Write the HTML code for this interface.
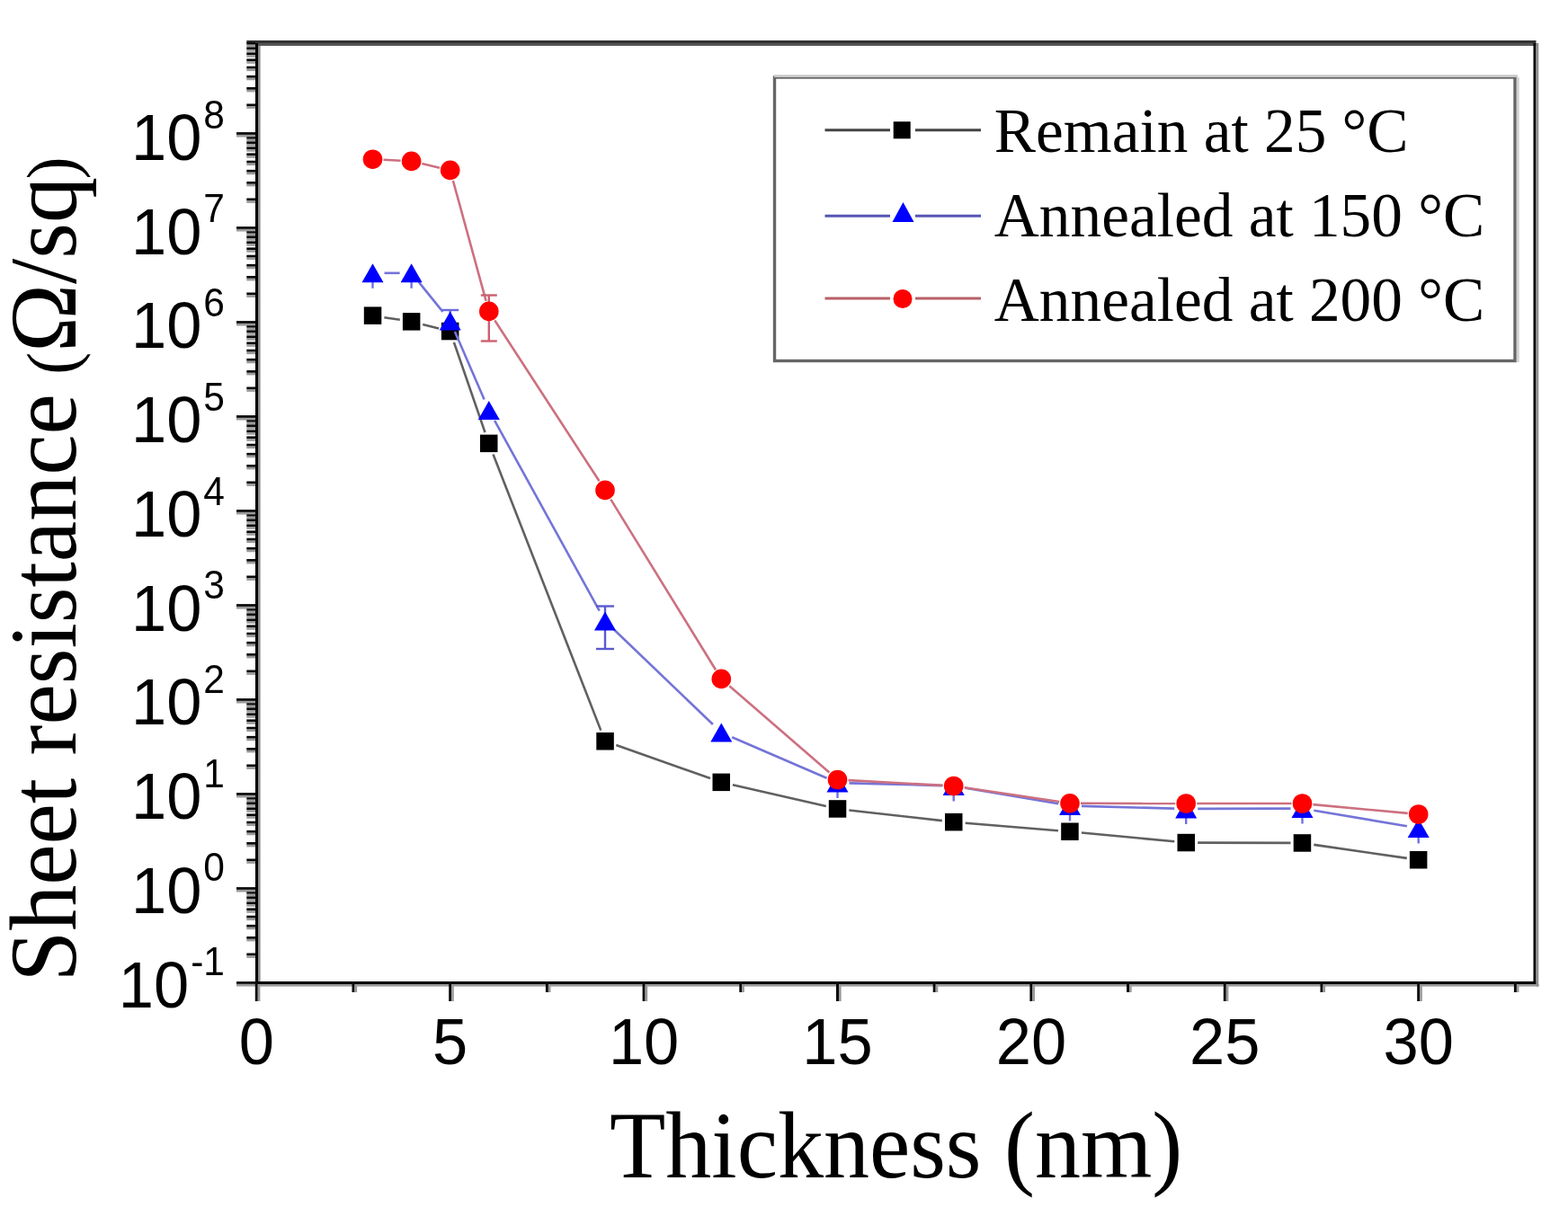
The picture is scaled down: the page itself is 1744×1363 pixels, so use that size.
<!DOCTYPE html>
<html><head><meta charset="utf-8"><title>Sheet resistance vs thickness</title>
<style>html,body{margin:0;padding:0;background:#fff;}svg{display:block;}</style>
</head><body>
<svg width="1744" height="1363" viewBox="0 0 1744 1363">
<rect width="100%" height="100%" fill="#fff"/>
<rect x="284.0" y="45.0" width="3" height="1050.0" fill="#000"/>
<rect x="287.0" y="48.0" width="2.6" height="1047.0" fill="#8c8c8c"/>
<rect x="284.0" y="1092.0" width="1424.5" height="3" fill="#000"/>
<rect x="287.0" y="1095.0" width="1424.5" height="2.6" fill="#999"/>
<rect x="274.3" y="45.0" width="1434.2" height="3" fill="#333"/>
<rect x="287.0" y="48.0" width="1421.5" height="3" fill="#555"/>
<rect x="1705.5" y="48.0" width="3" height="1047.0" fill="#000"/>
<rect x="1708.5" y="48.0" width="2.8" height="1049.6" fill="#909090"/>
<rect x="263.0" y="1092.10" width="21.0" height="2.8" fill="#0a0a0a"/>
<rect x="263.0" y="1094.90" width="21.0" height="2.6" fill="#8a8a8a" fill-opacity="0.85"/>
<rect x="274.3" y="1060.49" width="9.699999999999989" height="2.8" fill="#0a0a0a"/>
<rect x="274.3" y="1063.29" width="9.699999999999989" height="2.6" fill="#8a8a8a" fill-opacity="0.85"/>
<rect x="274.3" y="1042.00" width="9.699999999999989" height="2.8" fill="#0a0a0a"/>
<rect x="274.3" y="1044.80" width="9.699999999999989" height="2.6" fill="#8a8a8a" fill-opacity="0.85"/>
<rect x="274.3" y="1028.88" width="9.699999999999989" height="2.8" fill="#0a0a0a"/>
<rect x="274.3" y="1031.68" width="9.699999999999989" height="2.6" fill="#8a8a8a" fill-opacity="0.85"/>
<rect x="274.3" y="1018.71" width="9.699999999999989" height="2.8" fill="#0a0a0a"/>
<rect x="274.3" y="1021.51" width="9.699999999999989" height="2.6" fill="#8a8a8a" fill-opacity="0.85"/>
<rect x="274.3" y="1010.39" width="9.699999999999989" height="2.8" fill="#0a0a0a"/>
<rect x="274.3" y="1013.19" width="9.699999999999989" height="2.6" fill="#8a8a8a" fill-opacity="0.85"/>
<rect x="274.3" y="1003.36" width="9.699999999999989" height="2.8" fill="#0a0a0a"/>
<rect x="274.3" y="1006.16" width="9.699999999999989" height="2.6" fill="#8a8a8a" fill-opacity="0.85"/>
<rect x="274.3" y="997.28" width="9.699999999999989" height="2.8" fill="#0a0a0a"/>
<rect x="274.3" y="1000.08" width="9.699999999999989" height="2.6" fill="#8a8a8a" fill-opacity="0.85"/>
<rect x="274.3" y="991.90" width="9.699999999999989" height="2.8" fill="#0a0a0a"/>
<rect x="274.3" y="994.70" width="9.699999999999989" height="2.6" fill="#8a8a8a" fill-opacity="0.85"/>
<rect x="263.0" y="987.10" width="21.0" height="2.8" fill="#0a0a0a"/>
<rect x="263.0" y="989.90" width="21.0" height="2.6" fill="#8a8a8a" fill-opacity="0.85"/>
<rect x="274.3" y="955.49" width="9.699999999999989" height="2.8" fill="#0a0a0a"/>
<rect x="274.3" y="958.29" width="9.699999999999989" height="2.6" fill="#8a8a8a" fill-opacity="0.85"/>
<rect x="274.3" y="937.00" width="9.699999999999989" height="2.8" fill="#0a0a0a"/>
<rect x="274.3" y="939.80" width="9.699999999999989" height="2.6" fill="#8a8a8a" fill-opacity="0.85"/>
<rect x="274.3" y="923.88" width="9.699999999999989" height="2.8" fill="#0a0a0a"/>
<rect x="274.3" y="926.68" width="9.699999999999989" height="2.6" fill="#8a8a8a" fill-opacity="0.85"/>
<rect x="274.3" y="913.71" width="9.699999999999989" height="2.8" fill="#0a0a0a"/>
<rect x="274.3" y="916.51" width="9.699999999999989" height="2.6" fill="#8a8a8a" fill-opacity="0.85"/>
<rect x="274.3" y="905.39" width="9.699999999999989" height="2.8" fill="#0a0a0a"/>
<rect x="274.3" y="908.19" width="9.699999999999989" height="2.6" fill="#8a8a8a" fill-opacity="0.85"/>
<rect x="274.3" y="898.36" width="9.699999999999989" height="2.8" fill="#0a0a0a"/>
<rect x="274.3" y="901.16" width="9.699999999999989" height="2.6" fill="#8a8a8a" fill-opacity="0.85"/>
<rect x="274.3" y="892.28" width="9.699999999999989" height="2.8" fill="#0a0a0a"/>
<rect x="274.3" y="895.08" width="9.699999999999989" height="2.6" fill="#8a8a8a" fill-opacity="0.85"/>
<rect x="274.3" y="886.90" width="9.699999999999989" height="2.8" fill="#0a0a0a"/>
<rect x="274.3" y="889.70" width="9.699999999999989" height="2.6" fill="#8a8a8a" fill-opacity="0.85"/>
<rect x="263.0" y="882.10" width="21.0" height="2.8" fill="#0a0a0a"/>
<rect x="263.0" y="884.90" width="21.0" height="2.6" fill="#8a8a8a" fill-opacity="0.85"/>
<rect x="274.3" y="850.49" width="9.699999999999989" height="2.8" fill="#0a0a0a"/>
<rect x="274.3" y="853.29" width="9.699999999999989" height="2.6" fill="#8a8a8a" fill-opacity="0.85"/>
<rect x="274.3" y="832.00" width="9.699999999999989" height="2.8" fill="#0a0a0a"/>
<rect x="274.3" y="834.80" width="9.699999999999989" height="2.6" fill="#8a8a8a" fill-opacity="0.85"/>
<rect x="274.3" y="818.88" width="9.699999999999989" height="2.8" fill="#0a0a0a"/>
<rect x="274.3" y="821.68" width="9.699999999999989" height="2.6" fill="#8a8a8a" fill-opacity="0.85"/>
<rect x="274.3" y="808.71" width="9.699999999999989" height="2.8" fill="#0a0a0a"/>
<rect x="274.3" y="811.51" width="9.699999999999989" height="2.6" fill="#8a8a8a" fill-opacity="0.85"/>
<rect x="274.3" y="800.39" width="9.699999999999989" height="2.8" fill="#0a0a0a"/>
<rect x="274.3" y="803.19" width="9.699999999999989" height="2.6" fill="#8a8a8a" fill-opacity="0.85"/>
<rect x="274.3" y="793.36" width="9.699999999999989" height="2.8" fill="#0a0a0a"/>
<rect x="274.3" y="796.16" width="9.699999999999989" height="2.6" fill="#8a8a8a" fill-opacity="0.85"/>
<rect x="274.3" y="787.28" width="9.699999999999989" height="2.8" fill="#0a0a0a"/>
<rect x="274.3" y="790.08" width="9.699999999999989" height="2.6" fill="#8a8a8a" fill-opacity="0.85"/>
<rect x="274.3" y="781.90" width="9.699999999999989" height="2.8" fill="#0a0a0a"/>
<rect x="274.3" y="784.70" width="9.699999999999989" height="2.6" fill="#8a8a8a" fill-opacity="0.85"/>
<rect x="263.0" y="777.10" width="21.0" height="2.8" fill="#0a0a0a"/>
<rect x="263.0" y="779.90" width="21.0" height="2.6" fill="#8a8a8a" fill-opacity="0.85"/>
<rect x="274.3" y="745.49" width="9.699999999999989" height="2.8" fill="#0a0a0a"/>
<rect x="274.3" y="748.29" width="9.699999999999989" height="2.6" fill="#8a8a8a" fill-opacity="0.85"/>
<rect x="274.3" y="727.00" width="9.699999999999989" height="2.8" fill="#0a0a0a"/>
<rect x="274.3" y="729.80" width="9.699999999999989" height="2.6" fill="#8a8a8a" fill-opacity="0.85"/>
<rect x="274.3" y="713.88" width="9.699999999999989" height="2.8" fill="#0a0a0a"/>
<rect x="274.3" y="716.68" width="9.699999999999989" height="2.6" fill="#8a8a8a" fill-opacity="0.85"/>
<rect x="274.3" y="703.71" width="9.699999999999989" height="2.8" fill="#0a0a0a"/>
<rect x="274.3" y="706.51" width="9.699999999999989" height="2.6" fill="#8a8a8a" fill-opacity="0.85"/>
<rect x="274.3" y="695.39" width="9.699999999999989" height="2.8" fill="#0a0a0a"/>
<rect x="274.3" y="698.19" width="9.699999999999989" height="2.6" fill="#8a8a8a" fill-opacity="0.85"/>
<rect x="274.3" y="688.36" width="9.699999999999989" height="2.8" fill="#0a0a0a"/>
<rect x="274.3" y="691.16" width="9.699999999999989" height="2.6" fill="#8a8a8a" fill-opacity="0.85"/>
<rect x="274.3" y="682.28" width="9.699999999999989" height="2.8" fill="#0a0a0a"/>
<rect x="274.3" y="685.08" width="9.699999999999989" height="2.6" fill="#8a8a8a" fill-opacity="0.85"/>
<rect x="274.3" y="676.90" width="9.699999999999989" height="2.8" fill="#0a0a0a"/>
<rect x="274.3" y="679.70" width="9.699999999999989" height="2.6" fill="#8a8a8a" fill-opacity="0.85"/>
<rect x="263.0" y="672.10" width="21.0" height="2.8" fill="#0a0a0a"/>
<rect x="263.0" y="674.90" width="21.0" height="2.6" fill="#8a8a8a" fill-opacity="0.85"/>
<rect x="274.3" y="640.49" width="9.699999999999989" height="2.8" fill="#0a0a0a"/>
<rect x="274.3" y="643.29" width="9.699999999999989" height="2.6" fill="#8a8a8a" fill-opacity="0.85"/>
<rect x="274.3" y="622.00" width="9.699999999999989" height="2.8" fill="#0a0a0a"/>
<rect x="274.3" y="624.80" width="9.699999999999989" height="2.6" fill="#8a8a8a" fill-opacity="0.85"/>
<rect x="274.3" y="608.88" width="9.699999999999989" height="2.8" fill="#0a0a0a"/>
<rect x="274.3" y="611.68" width="9.699999999999989" height="2.6" fill="#8a8a8a" fill-opacity="0.85"/>
<rect x="274.3" y="598.71" width="9.699999999999989" height="2.8" fill="#0a0a0a"/>
<rect x="274.3" y="601.51" width="9.699999999999989" height="2.6" fill="#8a8a8a" fill-opacity="0.85"/>
<rect x="274.3" y="590.39" width="9.699999999999989" height="2.8" fill="#0a0a0a"/>
<rect x="274.3" y="593.19" width="9.699999999999989" height="2.6" fill="#8a8a8a" fill-opacity="0.85"/>
<rect x="274.3" y="583.36" width="9.699999999999989" height="2.8" fill="#0a0a0a"/>
<rect x="274.3" y="586.16" width="9.699999999999989" height="2.6" fill="#8a8a8a" fill-opacity="0.85"/>
<rect x="274.3" y="577.28" width="9.699999999999989" height="2.8" fill="#0a0a0a"/>
<rect x="274.3" y="580.08" width="9.699999999999989" height="2.6" fill="#8a8a8a" fill-opacity="0.85"/>
<rect x="274.3" y="571.90" width="9.699999999999989" height="2.8" fill="#0a0a0a"/>
<rect x="274.3" y="574.70" width="9.699999999999989" height="2.6" fill="#8a8a8a" fill-opacity="0.85"/>
<rect x="263.0" y="567.10" width="21.0" height="2.8" fill="#0a0a0a"/>
<rect x="263.0" y="569.90" width="21.0" height="2.6" fill="#8a8a8a" fill-opacity="0.85"/>
<rect x="274.3" y="535.49" width="9.699999999999989" height="2.8" fill="#0a0a0a"/>
<rect x="274.3" y="538.29" width="9.699999999999989" height="2.6" fill="#8a8a8a" fill-opacity="0.85"/>
<rect x="274.3" y="517.00" width="9.699999999999989" height="2.8" fill="#0a0a0a"/>
<rect x="274.3" y="519.80" width="9.699999999999989" height="2.6" fill="#8a8a8a" fill-opacity="0.85"/>
<rect x="274.3" y="503.88" width="9.699999999999989" height="2.8" fill="#0a0a0a"/>
<rect x="274.3" y="506.68" width="9.699999999999989" height="2.6" fill="#8a8a8a" fill-opacity="0.85"/>
<rect x="274.3" y="493.71" width="9.699999999999989" height="2.8" fill="#0a0a0a"/>
<rect x="274.3" y="496.51" width="9.699999999999989" height="2.6" fill="#8a8a8a" fill-opacity="0.85"/>
<rect x="274.3" y="485.39" width="9.699999999999989" height="2.8" fill="#0a0a0a"/>
<rect x="274.3" y="488.19" width="9.699999999999989" height="2.6" fill="#8a8a8a" fill-opacity="0.85"/>
<rect x="274.3" y="478.36" width="9.699999999999989" height="2.8" fill="#0a0a0a"/>
<rect x="274.3" y="481.16" width="9.699999999999989" height="2.6" fill="#8a8a8a" fill-opacity="0.85"/>
<rect x="274.3" y="472.28" width="9.699999999999989" height="2.8" fill="#0a0a0a"/>
<rect x="274.3" y="475.08" width="9.699999999999989" height="2.6" fill="#8a8a8a" fill-opacity="0.85"/>
<rect x="274.3" y="466.90" width="9.699999999999989" height="2.8" fill="#0a0a0a"/>
<rect x="274.3" y="469.70" width="9.699999999999989" height="2.6" fill="#8a8a8a" fill-opacity="0.85"/>
<rect x="263.0" y="462.10" width="21.0" height="2.8" fill="#0a0a0a"/>
<rect x="263.0" y="464.90" width="21.0" height="2.6" fill="#8a8a8a" fill-opacity="0.85"/>
<rect x="274.3" y="430.49" width="9.699999999999989" height="2.8" fill="#0a0a0a"/>
<rect x="274.3" y="433.29" width="9.699999999999989" height="2.6" fill="#8a8a8a" fill-opacity="0.85"/>
<rect x="274.3" y="412.00" width="9.699999999999989" height="2.8" fill="#0a0a0a"/>
<rect x="274.3" y="414.80" width="9.699999999999989" height="2.6" fill="#8a8a8a" fill-opacity="0.85"/>
<rect x="274.3" y="398.88" width="9.699999999999989" height="2.8" fill="#0a0a0a"/>
<rect x="274.3" y="401.68" width="9.699999999999989" height="2.6" fill="#8a8a8a" fill-opacity="0.85"/>
<rect x="274.3" y="388.71" width="9.699999999999989" height="2.8" fill="#0a0a0a"/>
<rect x="274.3" y="391.51" width="9.699999999999989" height="2.6" fill="#8a8a8a" fill-opacity="0.85"/>
<rect x="274.3" y="380.39" width="9.699999999999989" height="2.8" fill="#0a0a0a"/>
<rect x="274.3" y="383.19" width="9.699999999999989" height="2.6" fill="#8a8a8a" fill-opacity="0.85"/>
<rect x="274.3" y="373.36" width="9.699999999999989" height="2.8" fill="#0a0a0a"/>
<rect x="274.3" y="376.16" width="9.699999999999989" height="2.6" fill="#8a8a8a" fill-opacity="0.85"/>
<rect x="274.3" y="367.28" width="9.699999999999989" height="2.8" fill="#0a0a0a"/>
<rect x="274.3" y="370.08" width="9.699999999999989" height="2.6" fill="#8a8a8a" fill-opacity="0.85"/>
<rect x="274.3" y="361.90" width="9.699999999999989" height="2.8" fill="#0a0a0a"/>
<rect x="274.3" y="364.70" width="9.699999999999989" height="2.6" fill="#8a8a8a" fill-opacity="0.85"/>
<rect x="263.0" y="357.10" width="21.0" height="2.8" fill="#0a0a0a"/>
<rect x="263.0" y="359.90" width="21.0" height="2.6" fill="#8a8a8a" fill-opacity="0.85"/>
<rect x="274.3" y="325.49" width="9.699999999999989" height="2.8" fill="#0a0a0a"/>
<rect x="274.3" y="328.29" width="9.699999999999989" height="2.6" fill="#8a8a8a" fill-opacity="0.85"/>
<rect x="274.3" y="307.00" width="9.699999999999989" height="2.8" fill="#0a0a0a"/>
<rect x="274.3" y="309.80" width="9.699999999999989" height="2.6" fill="#8a8a8a" fill-opacity="0.85"/>
<rect x="274.3" y="293.88" width="9.699999999999989" height="2.8" fill="#0a0a0a"/>
<rect x="274.3" y="296.68" width="9.699999999999989" height="2.6" fill="#8a8a8a" fill-opacity="0.85"/>
<rect x="274.3" y="283.71" width="9.699999999999989" height="2.8" fill="#0a0a0a"/>
<rect x="274.3" y="286.51" width="9.699999999999989" height="2.6" fill="#8a8a8a" fill-opacity="0.85"/>
<rect x="274.3" y="275.39" width="9.699999999999989" height="2.8" fill="#0a0a0a"/>
<rect x="274.3" y="278.19" width="9.699999999999989" height="2.6" fill="#8a8a8a" fill-opacity="0.85"/>
<rect x="274.3" y="268.36" width="9.699999999999989" height="2.8" fill="#0a0a0a"/>
<rect x="274.3" y="271.16" width="9.699999999999989" height="2.6" fill="#8a8a8a" fill-opacity="0.85"/>
<rect x="274.3" y="262.28" width="9.699999999999989" height="2.8" fill="#0a0a0a"/>
<rect x="274.3" y="265.08" width="9.699999999999989" height="2.6" fill="#8a8a8a" fill-opacity="0.85"/>
<rect x="274.3" y="256.90" width="9.699999999999989" height="2.8" fill="#0a0a0a"/>
<rect x="274.3" y="259.70" width="9.699999999999989" height="2.6" fill="#8a8a8a" fill-opacity="0.85"/>
<rect x="263.0" y="252.10" width="21.0" height="2.8" fill="#0a0a0a"/>
<rect x="263.0" y="254.90" width="21.0" height="2.6" fill="#8a8a8a" fill-opacity="0.85"/>
<rect x="274.3" y="220.49" width="9.699999999999989" height="2.8" fill="#0a0a0a"/>
<rect x="274.3" y="223.29" width="9.699999999999989" height="2.6" fill="#8a8a8a" fill-opacity="0.85"/>
<rect x="274.3" y="202.00" width="9.699999999999989" height="2.8" fill="#0a0a0a"/>
<rect x="274.3" y="204.80" width="9.699999999999989" height="2.6" fill="#8a8a8a" fill-opacity="0.85"/>
<rect x="274.3" y="188.88" width="9.699999999999989" height="2.8" fill="#0a0a0a"/>
<rect x="274.3" y="191.68" width="9.699999999999989" height="2.6" fill="#8a8a8a" fill-opacity="0.85"/>
<rect x="274.3" y="178.71" width="9.699999999999989" height="2.8" fill="#0a0a0a"/>
<rect x="274.3" y="181.51" width="9.699999999999989" height="2.6" fill="#8a8a8a" fill-opacity="0.85"/>
<rect x="274.3" y="170.39" width="9.699999999999989" height="2.8" fill="#0a0a0a"/>
<rect x="274.3" y="173.19" width="9.699999999999989" height="2.6" fill="#8a8a8a" fill-opacity="0.85"/>
<rect x="274.3" y="163.36" width="9.699999999999989" height="2.8" fill="#0a0a0a"/>
<rect x="274.3" y="166.16" width="9.699999999999989" height="2.6" fill="#8a8a8a" fill-opacity="0.85"/>
<rect x="274.3" y="157.28" width="9.699999999999989" height="2.8" fill="#0a0a0a"/>
<rect x="274.3" y="160.08" width="9.699999999999989" height="2.6" fill="#8a8a8a" fill-opacity="0.85"/>
<rect x="274.3" y="151.90" width="9.699999999999989" height="2.8" fill="#0a0a0a"/>
<rect x="274.3" y="154.70" width="9.699999999999989" height="2.6" fill="#8a8a8a" fill-opacity="0.85"/>
<rect x="263.0" y="147.10" width="21.0" height="2.8" fill="#0a0a0a"/>
<rect x="263.0" y="149.90" width="21.0" height="2.6" fill="#8a8a8a" fill-opacity="0.85"/>
<rect x="274.3" y="115.49" width="9.699999999999989" height="2.8" fill="#0a0a0a"/>
<rect x="274.3" y="118.29" width="9.699999999999989" height="2.6" fill="#8a8a8a" fill-opacity="0.85"/>
<rect x="274.3" y="97.00" width="9.699999999999989" height="2.8" fill="#0a0a0a"/>
<rect x="274.3" y="99.80" width="9.699999999999989" height="2.6" fill="#8a8a8a" fill-opacity="0.85"/>
<rect x="274.3" y="83.88" width="9.699999999999989" height="2.8" fill="#0a0a0a"/>
<rect x="274.3" y="86.68" width="9.699999999999989" height="2.6" fill="#8a8a8a" fill-opacity="0.85"/>
<rect x="274.3" y="73.71" width="9.699999999999989" height="2.8" fill="#0a0a0a"/>
<rect x="274.3" y="76.51" width="9.699999999999989" height="2.6" fill="#8a8a8a" fill-opacity="0.85"/>
<rect x="274.3" y="65.39" width="9.699999999999989" height="2.8" fill="#0a0a0a"/>
<rect x="274.3" y="68.19" width="9.699999999999989" height="2.6" fill="#8a8a8a" fill-opacity="0.85"/>
<rect x="274.3" y="58.36" width="9.699999999999989" height="2.8" fill="#0a0a0a"/>
<rect x="274.3" y="61.16" width="9.699999999999989" height="2.6" fill="#8a8a8a" fill-opacity="0.85"/>
<rect x="274.3" y="52.28" width="9.699999999999989" height="2.8" fill="#0a0a0a"/>
<rect x="274.3" y="55.08" width="9.699999999999989" height="2.6" fill="#8a8a8a" fill-opacity="0.85"/>
<rect x="274.3" y="46.90" width="9.699999999999989" height="2.8" fill="#0a0a0a"/>
<rect x="274.3" y="49.70" width="9.699999999999989" height="2.6" fill="#8a8a8a" fill-opacity="0.85"/>
<rect x="283.80" y="1092.0" width="3" height="22.0" fill="#0a0a0a"/>
<rect x="286.80" y="1095.0" width="2.6" height="19.0" fill="#999"/>
<rect x="391.50" y="1092.0" width="3" height="12.0" fill="#0a0a0a"/>
<rect x="394.50" y="1095.0" width="2.6" height="9.0" fill="#999"/>
<rect x="499.20" y="1092.0" width="3" height="22.0" fill="#0a0a0a"/>
<rect x="502.20" y="1095.0" width="2.6" height="19.0" fill="#999"/>
<rect x="606.90" y="1092.0" width="3" height="12.0" fill="#0a0a0a"/>
<rect x="609.90" y="1095.0" width="2.6" height="9.0" fill="#999"/>
<rect x="714.60" y="1092.0" width="3" height="22.0" fill="#0a0a0a"/>
<rect x="717.60" y="1095.0" width="2.6" height="19.0" fill="#999"/>
<rect x="822.30" y="1092.0" width="3" height="12.0" fill="#0a0a0a"/>
<rect x="825.30" y="1095.0" width="2.6" height="9.0" fill="#999"/>
<rect x="930.00" y="1092.0" width="3" height="22.0" fill="#0a0a0a"/>
<rect x="933.00" y="1095.0" width="2.6" height="19.0" fill="#999"/>
<rect x="1037.70" y="1092.0" width="3" height="12.0" fill="#0a0a0a"/>
<rect x="1040.70" y="1095.0" width="2.6" height="9.0" fill="#999"/>
<rect x="1145.40" y="1092.0" width="3" height="22.0" fill="#0a0a0a"/>
<rect x="1148.40" y="1095.0" width="2.6" height="19.0" fill="#999"/>
<rect x="1253.10" y="1092.0" width="3" height="12.0" fill="#0a0a0a"/>
<rect x="1256.10" y="1095.0" width="2.6" height="9.0" fill="#999"/>
<rect x="1360.80" y="1092.0" width="3" height="22.0" fill="#0a0a0a"/>
<rect x="1363.80" y="1095.0" width="2.6" height="19.0" fill="#999"/>
<rect x="1468.50" y="1092.0" width="3" height="12.0" fill="#0a0a0a"/>
<rect x="1471.50" y="1095.0" width="2.6" height="9.0" fill="#999"/>
<rect x="1576.20" y="1092.0" width="3" height="22.0" fill="#0a0a0a"/>
<rect x="1579.20" y="1095.0" width="2.6" height="19.0" fill="#999"/>
<rect x="1683.90" y="1092.0" width="3" height="12.0" fill="#0a0a0a"/>
<rect x="1686.90" y="1095.0" width="2.6" height="9.0" fill="#999"/>
<g font-family="Liberation Sans, Arial, sans-serif" fill="#000">
<text transform="translate(285.3,1183.6) scale(1,1.025)" font-size="70.5" text-anchor="middle">0</text>
<text transform="translate(500.7,1183.6) scale(1,1.025)" font-size="70.5" text-anchor="middle">5</text>
<text transform="translate(716.1,1183.6) scale(1,1.025)" font-size="70.5" text-anchor="middle">10</text>
<text transform="translate(931.5,1183.6) scale(1,1.025)" font-size="70.5" text-anchor="middle">15</text>
<text transform="translate(1146.9,1183.6) scale(1,1.025)" font-size="70.5" text-anchor="middle">20</text>
<text transform="translate(1362.3,1183.6) scale(1,1.025)" font-size="70.5" text-anchor="middle">25</text>
<text transform="translate(1577.7,1183.6) scale(1,1.025)" font-size="70.5" text-anchor="middle">30</text>
<text transform="translate(250,1120.5) scale(1,1.025)" font-size="70.5" text-anchor="end">10<tspan font-size="42.5" dx="2" dy="-34.5">-1</tspan></text>
<text transform="translate(250,1015.8) scale(1,1.025)" font-size="70.5" text-anchor="end">10<tspan font-size="42.5" dx="2" dy="-34.5">0</tspan></text>
<text transform="translate(250,911.0) scale(1,1.025)" font-size="70.5" text-anchor="end">10<tspan font-size="42.5" dx="2" dy="-34.5">1</tspan></text>
<text transform="translate(250,806.3) scale(1,1.025)" font-size="70.5" text-anchor="end">10<tspan font-size="42.5" dx="2" dy="-34.5">2</tspan></text>
<text transform="translate(250,701.6) scale(1,1.025)" font-size="70.5" text-anchor="end">10<tspan font-size="42.5" dx="2" dy="-34.5">3</tspan></text>
<text transform="translate(250,596.9) scale(1,1.025)" font-size="70.5" text-anchor="end">10<tspan font-size="42.5" dx="2" dy="-34.5">4</tspan></text>
<text transform="translate(250,492.2) scale(1,1.025)" font-size="70.5" text-anchor="end">10<tspan font-size="42.5" dx="2" dy="-34.5">5</tspan></text>
<text transform="translate(250,387.4) scale(1,1.025)" font-size="70.5" text-anchor="end">10<tspan font-size="42.5" dx="2" dy="-34.5">6</tspan></text>
<text transform="translate(250,282.7) scale(1,1.025)" font-size="70.5" text-anchor="end">10<tspan font-size="42.5" dx="2" dy="-34.5">7</tspan></text>
<text transform="translate(250,178.0) scale(1,1.025)" font-size="70.5" text-anchor="end">10<tspan font-size="42.5" dx="2" dy="-34.5">8</tspan></text>
</g>
<g font-family="Liberation Serif, Times New Roman, serif" fill="#000">
<text transform="translate(678,1310.4) scale(1,1.03)" font-size="102">Thickness (nm)</text>
<text transform="translate(84,1092.5) rotate(-90) scale(1,1.03)" font-size="102">Sheet resistance <tspan font-size="75" dx="-4">(</tspan>&#937;/sq<tspan font-size="75" dx="-2.5">)</tspan></text>
</g>
<line x1="427.4" y1="353.2" x2="444.8" y2="355.8" stroke="#606060" stroke-width="2.6"/><line x1="470.2" y1="360.9" x2="488.1" y2="365.4" stroke="#606060" stroke-width="2.6"/><line x1="504.9" y1="380.8" x2="539.5" y2="481.1" stroke="#606060" stroke-width="2.6"/><line x1="548.5" y1="505.5" x2="668.3" y2="812.6" stroke="#606060" stroke-width="2.6"/><line x1="685.3" y1="829.0" x2="790.0" y2="866.1" stroke="#606060" stroke-width="2.6"/><line x1="814.9" y1="873.3" x2="918.8" y2="897.1" stroke="#606060" stroke-width="2.6"/><line x1="944.4" y1="901.5" x2="1047.8" y2="913.1" stroke="#606060" stroke-width="2.6"/><line x1="1073.7" y1="915.7" x2="1177.0" y2="924.2" stroke="#606060" stroke-width="2.6"/><line x1="1202.9" y1="926.5" x2="1306.3" y2="936.3" stroke="#606060" stroke-width="2.6"/><line x1="1332.2" y1="937.6" x2="1435.5" y2="937.9" stroke="#606060" stroke-width="2.6"/><line x1="1461.3" y1="939.9" x2="1564.8" y2="954.9" stroke="#606060" stroke-width="2.6"/>
<rect x="404.8" y="341.4" width="19.5" height="19.5" fill="#000"/>
<rect x="447.9" y="348.1" width="19.5" height="19.5" fill="#000"/>
<rect x="490.9" y="358.8" width="19.5" height="19.5" fill="#000"/>
<rect x="534.0" y="483.6" width="19.5" height="19.5" fill="#000"/>
<rect x="663.3" y="815.0" width="19.5" height="19.5" fill="#000"/>
<rect x="792.5" y="860.6" width="19.5" height="19.5" fill="#000"/>
<rect x="921.8" y="890.2" width="19.5" height="19.5" fill="#000"/>
<rect x="1051.0" y="904.9" width="19.5" height="19.5" fill="#000"/>
<rect x="1180.2" y="915.5" width="19.5" height="19.5" fill="#000"/>
<rect x="1309.5" y="927.8" width="19.5" height="19.5" fill="#000"/>
<rect x="1438.7" y="928.2" width="19.5" height="19.5" fill="#000"/>
<rect x="1567.9" y="947.0" width="19.5" height="19.5" fill="#000"/>
<line x1="427.5" y1="303.8" x2="444.6" y2="303.8" stroke="#7474d8" stroke-width="2.6"/><line x1="465.8" y1="313.9" x2="492.5" y2="346.9" stroke="#7474d8" stroke-width="2.6"/><line x1="505.9" y1="368.9" x2="538.6" y2="444.6" stroke="#7474d8" stroke-width="2.6"/><line x1="550.1" y1="467.9" x2="666.7" y2="679.6" stroke="#7474d8" stroke-width="2.6"/><line x1="682.4" y1="700.0" x2="792.9" y2="806.0" stroke="#7474d8" stroke-width="2.6"/><line x1="814.2" y1="820.2" x2="919.6" y2="865.8" stroke="#7474d8" stroke-width="2.6"/><line x1="944.5" y1="871.4" x2="1047.7" y2="874.1" stroke="#7474d8" stroke-width="2.6"/><line x1="1073.6" y1="876.7" x2="1177.2" y2="894.3" stroke="#7474d8" stroke-width="2.6"/><line x1="1203.0" y1="896.9" x2="1306.2" y2="899.6" stroke="#7474d8" stroke-width="2.6"/><line x1="1332.2" y1="899.9" x2="1435.5" y2="899.6" stroke="#7474d8" stroke-width="2.6"/><line x1="1461.3" y1="901.7" x2="1564.9" y2="919.3" stroke="#7474d8" stroke-width="2.6"/>
<line x1="673.0" y1="674.5" x2="673.0" y2="722" stroke="#5a5ad0" stroke-width="2.4"/><line x1="663.0" y1="674.5" x2="683.0" y2="674.5" stroke="#5a5ad0" stroke-width="2.4"/><line x1="663.0" y1="722" x2="683.0" y2="722" stroke="#5a5ad0" stroke-width="2.4"/>
<line x1="500.7" y1="345" x2="500.7" y2="357" stroke="#6a6ae0" stroke-width="2.4"/>
<line x1="491.2" y1="345" x2="510.2" y2="345" stroke="#6a6ae0" stroke-width="2.4"/>
<line x1="414.5" y1="313.8" x2="414.5" y2="320.8" stroke="#7070e8" stroke-width="2.4"/>
<line x1="457.6" y1="313.8" x2="457.6" y2="320.8" stroke="#7070e8" stroke-width="2.4"/>
<line x1="931.5" y1="881.0" x2="931.5" y2="888.0" stroke="#7070e8" stroke-width="2.4"/>
<line x1="1060.7" y1="884.5" x2="1060.7" y2="891.5" stroke="#7070e8" stroke-width="2.4"/>
<line x1="1190.0" y1="906.5" x2="1190.0" y2="913.5" stroke="#7070e8" stroke-width="2.4"/>
<line x1="1319.2" y1="910.0" x2="1319.2" y2="917.0" stroke="#7070e8" stroke-width="2.4"/>
<line x1="1448.5" y1="909.5" x2="1448.5" y2="916.5" stroke="#7070e8" stroke-width="2.4"/>
<line x1="1577.7" y1="931.5" x2="1577.7" y2="938.5" stroke="#7070e8" stroke-width="2.4"/>
<polygon points="414.5,293.3 426.5,314.3 402.5,314.3" fill="#0000ff"/>
<polygon points="457.6,293.3 469.6,314.3 445.6,314.3" fill="#0000ff"/>
<polygon points="500.7,346.5 512.7,367.5 488.7,367.5" fill="#0000ff"/>
<polygon points="543.8,446.0 555.8,467.0 531.8,467.0" fill="#0000ff"/>
<polygon points="673.0,680.5 685.0,701.5 661.0,701.5" fill="#0000ff"/>
<polygon points="802.3,804.5 814.3,825.5 790.3,825.5" fill="#0000ff"/>
<polygon points="931.5,860.5 943.5,881.5 919.5,881.5" fill="#0000ff"/>
<polygon points="1060.7,864.0 1072.7,885.0 1048.7,885.0" fill="#0000ff"/>
<polygon points="1190.0,886.0 1202.0,907.0 1178.0,907.0" fill="#0000ff"/>
<polygon points="1319.2,889.5 1331.2,910.5 1307.2,910.5" fill="#0000ff"/>
<polygon points="1448.5,889.0 1460.5,910.0 1436.5,910.0" fill="#0000ff"/>
<polygon points="1577.7,911.0 1589.7,932.0 1565.7,932.0" fill="#0000ff"/>
<line x1="426.5" y1="177.8" x2="445.6" y2="178.8" stroke="#cc7080" stroke-width="2.6"/><line x1="469.3" y1="182.1" x2="489.0" y2="186.7" stroke="#cc7080" stroke-width="2.6"/><line x1="503.9" y1="201.0" x2="540.6" y2="334.8" stroke="#cc7080" stroke-width="2.6"/><line x1="550.3" y1="356.5" x2="666.5" y2="535.3" stroke="#cc7080" stroke-width="2.6"/><line x1="679.3" y1="555.6" x2="796.0" y2="745.2" stroke="#cc7080" stroke-width="2.6"/><line x1="811.3" y1="763.3" x2="922.4" y2="859.6" stroke="#cc7080" stroke-width="2.6"/><line x1="943.5" y1="868.1" x2="1048.8" y2="873.9" stroke="#cc7080" stroke-width="2.6"/><line x1="1072.6" y1="876.3" x2="1178.1" y2="892.0" stroke="#cc7080" stroke-width="2.6"/><line x1="1202.0" y1="893.8" x2="1307.2" y2="894.0" stroke="#cc7080" stroke-width="2.6"/><line x1="1331.2" y1="894.0" x2="1436.5" y2="894.0" stroke="#cc7080" stroke-width="2.6"/><line x1="1460.4" y1="895.1" x2="1565.8" y2="904.9" stroke="#cc7080" stroke-width="2.6"/>
<line x1="543.8" y1="328.5" x2="543.8" y2="379.5" stroke="#cc6070" stroke-width="2.4"/><line x1="534.8" y1="328.5" x2="552.8" y2="328.5" stroke="#cc6070" stroke-width="2.4"/><line x1="534.8" y1="379.5" x2="552.8" y2="379.5" stroke="#cc6070" stroke-width="2.4"/>
<circle cx="414.5" cy="177.2" r="10.8" fill="#ff0000"/>
<circle cx="457.6" cy="179.4" r="10.8" fill="#ff0000"/>
<circle cx="500.7" cy="189.4" r="10.8" fill="#ff0000"/>
<circle cx="543.8" cy="346.4" r="10.8" fill="#ff0000"/>
<circle cx="673.0" cy="545.4" r="10.8" fill="#ff0000"/>
<circle cx="802.3" cy="755.4" r="10.8" fill="#ff0000"/>
<circle cx="931.5" cy="867.5" r="10.8" fill="#ff0000"/>
<circle cx="1060.7" cy="874.5" r="10.8" fill="#ff0000"/>
<circle cx="1190.0" cy="893.8" r="10.8" fill="#ff0000"/>
<circle cx="1319.2" cy="894.0" r="10.8" fill="#ff0000"/>
<circle cx="1448.5" cy="894.0" r="10.8" fill="#ff0000"/>
<circle cx="1577.7" cy="906.0" r="10.8" fill="#ff0000"/>
<rect x="861.5" y="86" width="823.5" height="315.5" fill="none" stroke="#666" stroke-width="3.4"/>
<line x1="861" y1="84.6" x2="1688" y2="84.6" stroke="#c8c8c8" stroke-width="2.6"/>
<line x1="1688.4" y1="86" x2="1688.4" y2="403" stroke="#d0d0d0" stroke-width="2.6"/>
<line x1="917.5" y1="144.8" x2="990" y2="144.8" stroke="#444" stroke-width="3"/>
<line x1="1018" y1="144.8" x2="1091" y2="144.8" stroke="#444" stroke-width="3"/>
<rect x="993.7" y="135.3" width="19" height="19" fill="#000"/>
<line x1="917.5" y1="240.2" x2="990" y2="240.2" stroke="#5656b4" stroke-width="3"/>
<line x1="1018" y1="240.2" x2="1091" y2="240.2" stroke="#5656b4" stroke-width="3"/>
<polygon points="1004.5,225.0 1016.5,247.0 992.5,247.0" fill="#0000ff"/>
<line x1="917.5" y1="332.0" x2="990" y2="332.0" stroke="#b86068" stroke-width="3"/>
<line x1="1018" y1="332.0" x2="1091" y2="332.0" stroke="#b86068" stroke-width="3"/>
<circle cx="1004.0" cy="332.5" r="10.5" fill="#ff0000"/>
<g font-family="Liberation Serif, Times New Roman, serif" font-size="69.3" fill="#000">
<text x="1105.8" y="169.3">Remain at 25 °C</text>
<text x="1105.8" y="262.8">Annealed at 150 °C</text>
<text x="1105.8" y="357.4">Annealed at 200 °C</text>
</g>
</svg>
</body></html>
